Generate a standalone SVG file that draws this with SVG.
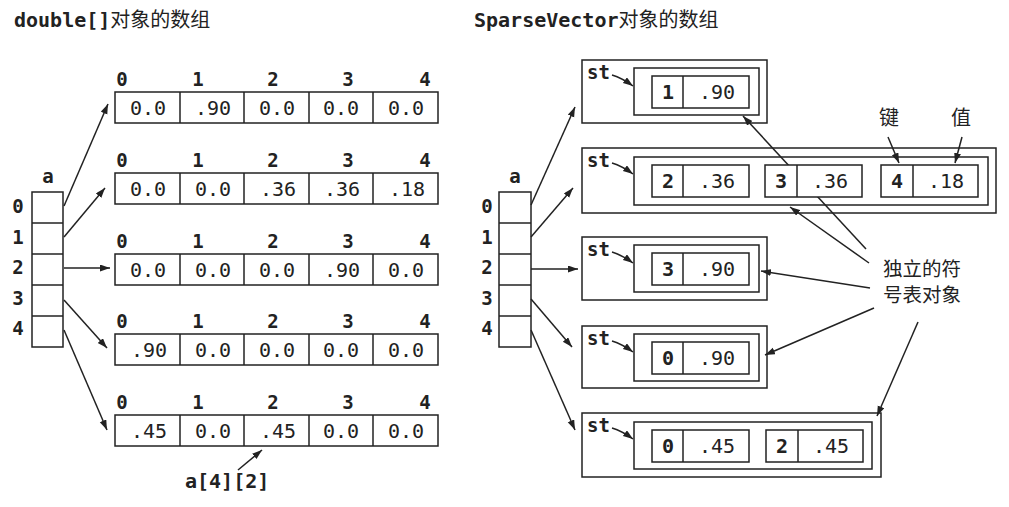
<svg xmlns="http://www.w3.org/2000/svg" width="1009" height="507" viewBox="0 0 1009 507">
<style>
.bg{fill:#fff}
.box{fill:none;stroke:#222;stroke-width:1.5}
.cell{fill:#fff;stroke:#222;stroke-width:1.5}
.ln{stroke:#222;stroke-width:1.5}
.val{font-family:"DejaVu Sans Mono","Liberation Mono",monospace;font-size:20px;fill:#222;text-anchor:middle}
.idx{font-family:"DejaVu Sans Mono","Liberation Mono",monospace;font-weight:bold;font-size:19px;fill:#222;text-anchor:middle}
.key{font-family:"DejaVu Sans Mono","Liberation Mono",monospace;font-weight:bold;font-size:20px;fill:#222;text-anchor:middle}
.st{font-family:"DejaVu Sans Mono","Liberation Mono",monospace;font-weight:bold;font-size:19px;fill:#222}
.ttl{font-family:"DejaVu Sans Mono","Liberation Mono",monospace;font-weight:bold;font-size:20px;fill:#222}
.cjk{font-family:"Noto Sans CJK SC",sans-serif;font-size:20px;font-weight:normal;fill:#222}
.cjk2{font-family:"Noto Sans CJK SC",sans-serif;font-size:19.5px;font-weight:normal;fill:#222}
.conn{stroke:#222;stroke-width:1.5;fill:none;marker-end:url(#ah)}
</style>
<defs>
<marker id="ah" markerUnits="userSpaceOnUse" markerWidth="11" markerHeight="8" refX="10" refY="3.5" orient="auto">
<path d="M0,0 L10,3.5 L0,7 z" fill="#222"/>
</marker>
</defs>
<rect class="bg" x="0" y="0" width="1009" height="507"/>

<text id="title-left" class="ttl" x="14" y="27">double[]<tspan class="cjk">对象的数组</tspan></text>
<text id="title-right" class="ttl" x="474" y="27">SparseVector<tspan class="cjk">对象的数组</tspan></text>

<g id="connectors">
<line class="conn" x1="64" y1="206" x2="108" y2="104"/>
<line class="conn" x1="64" y1="237" x2="105" y2="188"/>
<line class="conn" x1="64" y1="268" x2="110" y2="268"/>
<line class="conn" x1="64" y1="300" x2="107" y2="348"/>
<line class="conn" x1="64" y1="330" x2="107" y2="430"/>
<line class="conn" x1="238" y1="470" x2="262" y2="450"/>

<line class="conn" x1="531" y1="205" x2="575" y2="107"/>
<line class="conn" x1="531" y1="237" x2="573" y2="188"/>
<line class="conn" x1="531" y1="269" x2="578" y2="269"/>
<line class="conn" x1="531" y1="299" x2="572" y2="347"/>
<line class="conn" x1="531" y1="330" x2="575" y2="430"/>

<path class="conn" d="M612,75 Q622,78 633,86"/>
<path class="conn" d="M612,163 Q622,166 633,174"/>
<path class="conn" d="M612,252 Q622,255 633,263"/>
<path class="conn" d="M612,341 Q622,344 633,352"/>
<path class="conn" d="M612,428 Q622,431 633,439"/>

<line class="conn" x1="888" y1="137" x2="899" y2="163"/>
<line class="conn" x1="962" y1="137" x2="955" y2="163"/>

<line class="conn" x1="866" y1="249" x2="743" y2="116"/>
<line class="conn" x1="869" y1="263" x2="790" y2="207"/>
<line class="conn" x1="870" y1="288" x2="761" y2="271"/>
<line class="conn" x1="874" y1="308" x2="765" y2="355"/>
<line class="conn" x1="918" y1="322" x2="877" y2="416"/>
</g>

<g id="left-array-a">
<text class="idx" x="48" y="183">a</text>
<rect class="box" x="32" y="192" width="31" height="155"/>
<line class="ln" x1="32" y1="223" x2="63" y2="223"/>
<line class="ln" x1="32" y1="254" x2="63" y2="254"/>
<line class="ln" x1="32" y1="285" x2="63" y2="285"/>
<line class="ln" x1="32" y1="316" x2="63" y2="316"/>
<text class="idx" x="18" y="213">0</text>
<text class="idx" x="18" y="244">1</text>
<text class="idx" x="18" y="274">2</text>
<text class="idx" x="18" y="305">3</text>
<text class="idx" x="18" y="335">4</text>
</g>

<g id="row0">
<text class="idx" x="122" y="86">0</text><text class="idx" x="198" y="86">1</text><text class="idx" x="273" y="86">2</text><text class="idx" x="348" y="86">3</text><text class="idx" x="425" y="86">4</text>
<rect class="cell" x="115" y="92" width="323" height="31"/>
<line class="ln" x1="180" y1="92" x2="180" y2="123"/><line class="ln" x1="244" y1="92" x2="244" y2="123"/><line class="ln" x1="309" y1="92" x2="309" y2="123"/><line class="ln" x1="373" y1="92" x2="373" y2="123"/>
<text class="val" x="148" y="115">0.0</text><text class="val" x="213" y="115">.90</text><text class="val" x="277" y="115">0.0</text><text class="val" x="341" y="115">0.0</text><text class="val" x="406" y="115">0.0</text>
</g>
<g id="row1">
<text class="idx" x="122" y="167">0</text><text class="idx" x="198" y="167">1</text><text class="idx" x="273" y="167">2</text><text class="idx" x="348" y="167">3</text><text class="idx" x="425" y="167">4</text>
<rect class="cell" x="115" y="173" width="323" height="31"/>
<line class="ln" x1="180" y1="173" x2="180" y2="204"/><line class="ln" x1="244" y1="173" x2="244" y2="204"/><line class="ln" x1="309" y1="173" x2="309" y2="204"/><line class="ln" x1="373" y1="173" x2="373" y2="204"/>
<text class="val" x="148" y="196">0.0</text><text class="val" x="213" y="196">0.0</text><text class="val" x="278" y="196">.36</text><text class="val" x="342" y="196">.36</text><text class="val" x="407" y="196">.18</text>
</g>
<g id="row2">
<text class="idx" x="122" y="248">0</text><text class="idx" x="198" y="248">1</text><text class="idx" x="273" y="248">2</text><text class="idx" x="348" y="248">3</text><text class="idx" x="425" y="248">4</text>
<rect class="cell" x="115" y="254" width="323" height="31"/>
<line class="ln" x1="180" y1="254" x2="180" y2="285"/><line class="ln" x1="244" y1="254" x2="244" y2="285"/><line class="ln" x1="309" y1="254" x2="309" y2="285"/><line class="ln" x1="373" y1="254" x2="373" y2="285"/>
<text class="val" x="148" y="277">0.0</text><text class="val" x="213" y="277">0.0</text><text class="val" x="277" y="277">0.0</text><text class="val" x="342" y="277">.90</text><text class="val" x="406" y="277">0.0</text>
</g>
<g id="row3">
<text class="idx" x="122" y="328">0</text><text class="idx" x="198" y="328">1</text><text class="idx" x="273" y="328">2</text><text class="idx" x="348" y="328">3</text><text class="idx" x="425" y="328">4</text>
<rect class="cell" x="115" y="334" width="323" height="31"/>
<line class="ln" x1="180" y1="334" x2="180" y2="365"/><line class="ln" x1="244" y1="334" x2="244" y2="365"/><line class="ln" x1="309" y1="334" x2="309" y2="365"/><line class="ln" x1="373" y1="334" x2="373" y2="365"/>
<text class="val" x="149" y="357">.90</text><text class="val" x="213" y="357">0.0</text><text class="val" x="277" y="357">0.0</text><text class="val" x="341" y="357">0.0</text><text class="val" x="406" y="357">0.0</text>
</g>
<g id="row4">
<text class="idx" x="122" y="409">0</text><text class="idx" x="198" y="409">1</text><text class="idx" x="273" y="409">2</text><text class="idx" x="348" y="409">3</text><text class="idx" x="425" y="409">4</text>
<rect class="cell" x="115" y="415" width="323" height="31"/>
<line class="ln" x1="180" y1="415" x2="180" y2="446"/><line class="ln" x1="244" y1="415" x2="244" y2="446"/><line class="ln" x1="309" y1="415" x2="309" y2="446"/><line class="ln" x1="373" y1="415" x2="373" y2="446"/>
<text class="val" x="149" y="438">.45</text><text class="val" x="213" y="438">0.0</text><text class="val" x="278" y="438">.45</text><text class="val" x="341" y="438">0.0</text><text class="val" x="406" y="438">0.0</text>
</g>
<g id="label-a42"><text class="ttl" x="185" y="488">a[4][2]</text></g>

<g id="right-array-a">
<text class="idx" x="515" y="183">a</text>
<rect class="box" x="499" y="192" width="32" height="155"/>
<line class="ln" x1="499" y1="223" x2="531" y2="223"/>
<line class="ln" x1="499" y1="254" x2="531" y2="254"/>
<line class="ln" x1="499" y1="285" x2="531" y2="285"/>
<line class="ln" x1="499" y1="316" x2="531" y2="316"/>
<text class="idx" x="487" y="213">0</text>
<text class="idx" x="487" y="244">1</text>
<text class="idx" x="487" y="274">2</text>
<text class="idx" x="487" y="305">3</text>
<text class="idx" x="487" y="335">4</text>
</g>

<g id="sv0">
<rect class="box" x="582" y="60" width="185" height="63"/>
<text class="st" x="587" y="79">st</text>
<rect class="box" x="634" y="68" width="125" height="47"/>
<rect class="cell" x="652" y="76" width="97" height="32"/><line class="ln" x1="683" y1="76" x2="683" y2="108"/>
<text class="key" x="668" y="99">1</text><text class="val" x="717" y="99">.90</text>
</g>
<g id="sv1">
<rect class="box" x="582" y="148" width="414" height="65"/>
<text class="st" x="587" y="167">st</text>
<rect class="box" x="634" y="157" width="354" height="48"/>
<rect class="cell" x="652" y="165" width="97" height="32"/><line class="ln" x1="683" y1="165" x2="683" y2="197"/>
<text class="key" x="668" y="188">2</text><text class="val" x="717" y="188">.36</text>
<rect class="cell" x="765" y="165" width="97" height="32"/><line class="ln" x1="797" y1="165" x2="797" y2="197"/>
<text class="key" x="781" y="188">3</text><text class="val" x="830" y="188">.36</text>
<rect class="cell" x="881" y="165" width="97" height="32"/><line class="ln" x1="913" y1="165" x2="913" y2="197"/>
<text class="key" x="897" y="188">4</text><text class="val" x="946" y="188">.18</text>
</g>
<g id="sv2">
<rect class="box" x="582" y="237" width="185" height="63"/>
<text class="st" x="587" y="256">st</text>
<rect class="box" x="634" y="245" width="125" height="47"/>
<rect class="cell" x="652" y="253" width="97" height="32"/><line class="ln" x1="683" y1="253" x2="683" y2="285"/>
<text class="key" x="668" y="276">3</text><text class="val" x="717" y="276">.90</text>
</g>
<g id="sv3">
<rect class="box" x="582" y="326" width="185" height="62"/>
<text class="st" x="587" y="345">st</text>
<rect class="box" x="634" y="334" width="125" height="47"/>
<rect class="cell" x="652" y="342" width="97" height="32"/><line class="ln" x1="683" y1="342" x2="683" y2="374"/>
<text class="key" x="668" y="365">0</text><text class="val" x="717" y="365">.90</text>
</g>
<g id="sv4">
<rect class="box" x="582" y="413" width="299" height="64"/>
<text class="st" x="587" y="432">st</text>
<rect class="box" x="634" y="422" width="238" height="47"/>
<rect class="cell" x="652" y="430" width="97" height="32"/><line class="ln" x1="683" y1="430" x2="683" y2="462"/>
<text class="key" x="668" y="453">0</text><text class="val" x="717" y="453">.45</text>
<rect class="cell" x="766" y="430" width="97" height="32"/><line class="ln" x1="798" y1="430" x2="798" y2="462"/>
<text class="key" x="782" y="453">2</text><text class="val" x="831" y="453">.45</text>
</g>

<g id="label-key"><text class="cjk" x="889" y="125" text-anchor="middle">键</text></g>
<g id="label-value"><text class="cjk" x="961" y="125" text-anchor="middle">值</text></g>
<g id="label-symtab">
<text class="cjk2" x="883" y="276">独立的符</text>
<text class="cjk2" x="883" y="302">号表对象</text>
</g>
</svg>
